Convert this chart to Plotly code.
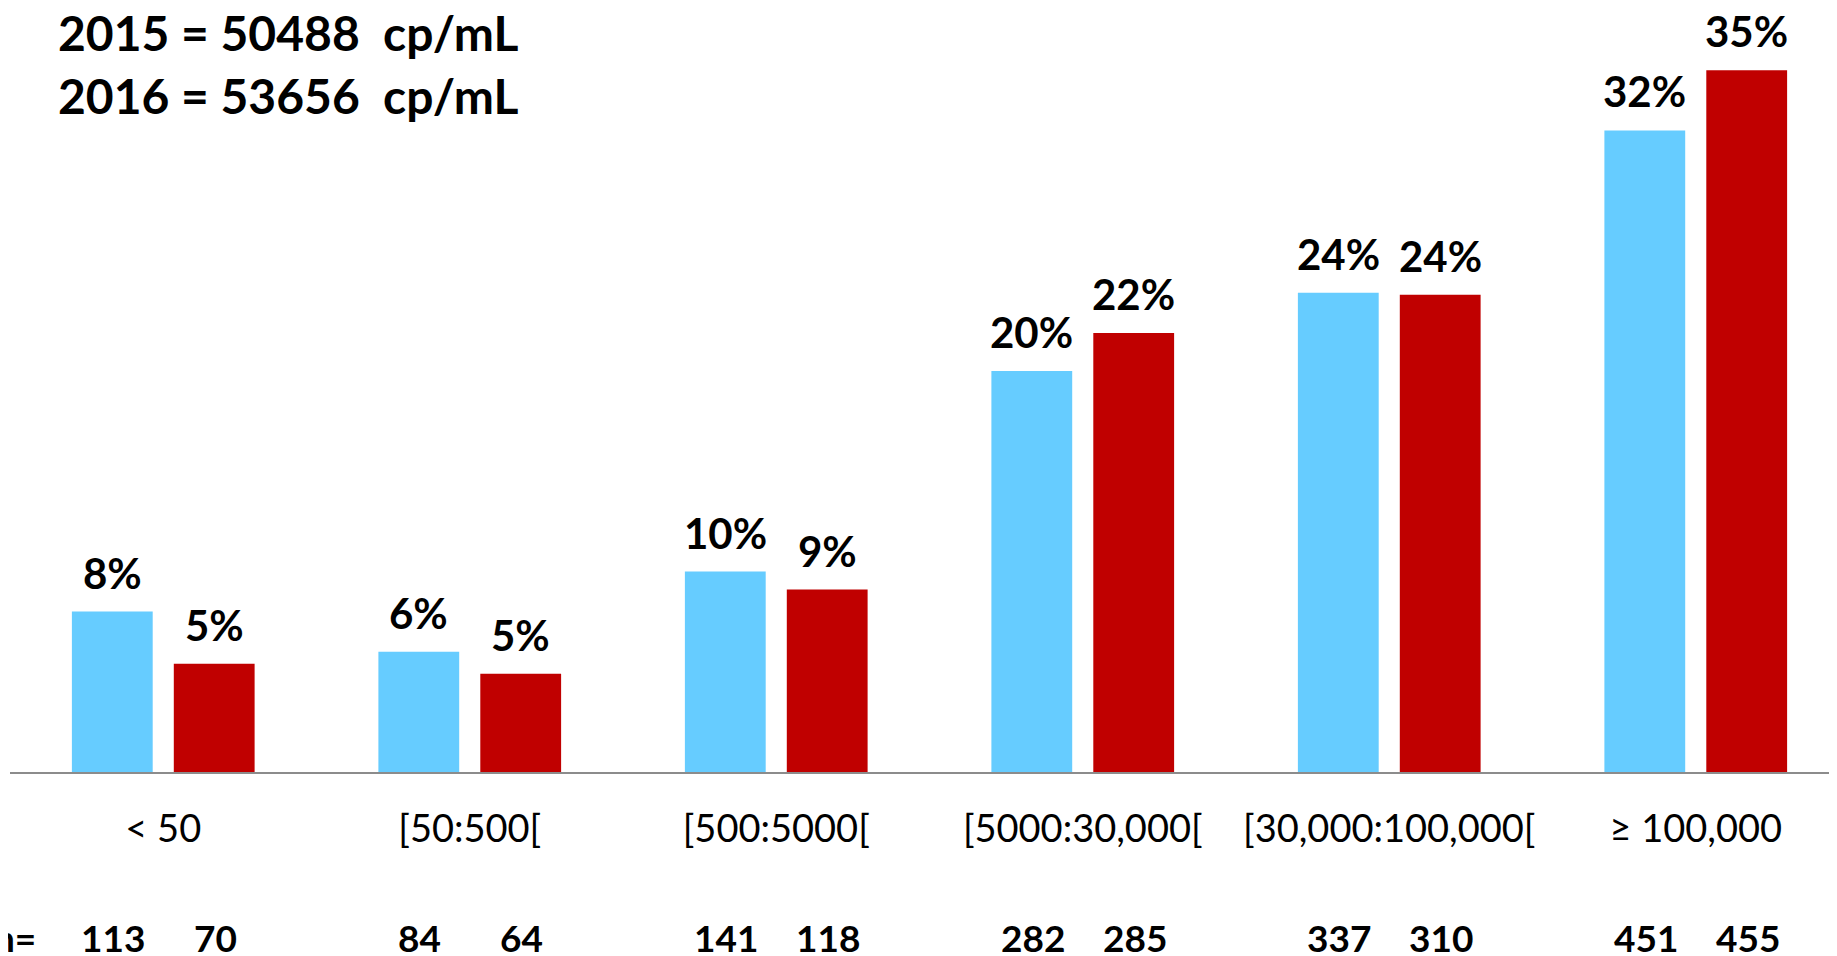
import plotly.graph_objects as go

categories = ["< 50", "[50:500[", "[500:5000[", "[5000:30,000[", "[30,000:100,000[", "\u2265 100,000"]
pct_2015 = [8.0, 6.0, 10.0, 20.0, 23.9, 32.0]
pct_2016 = [5.4, 4.9, 9.1, 21.9, 23.8, 35.0]
n_2015 = [113, 84, 141, 282, 337, 451]
n_2016 = [70, 64, 118, 285, 310, 455]
title_lines = ["2015 = 50488\u00a0\u00a0cp/mL", "2016 = 53656\u00a0\u00a0cp/mL"]

BLUE = "#66CCFF"
RED = "#C00000"
FONT = "Lato"

# page has an 8px body margin, so the figure is drawn smaller and shifted
BODY = 8
W, H = 1837 - BODY, 956 - BODY
ML = 2
BASE = 772 - BODY          # baseline in figure pixels
MB = H - BASE
plot_w = W - ML
cat_px = 306.5
x_span = plot_w / cat_px
px_per_pct = 20.05

fig = go.Figure()
fig.add_trace(go.Bar(x=categories, y=pct_2015, name="2015", marker=dict(color=BLUE, line=dict(width=0)), hoverinfo="skip"))
fig.add_trace(go.Bar(x=categories, y=pct_2016, name="2016", marker=dict(color=RED, line=dict(width=0)), hoverinfo="skip"))

ann = []
off = 0.3325 * cat_px / 2  # pixel offset of each bar centre from category centre
n_y = -(937 - 772)
for i, c in enumerate(categories):
    for vals, ns, sgn in ((pct_2015, n_2015, -1), (pct_2016, n_2016, 1)):
        ann.append(dict(x=c, y=vals[i], xref="x", yref="y", text=f"<b>{vals[i]:.0f}%</b>",
                        showarrow=False, xshift=sgn * off, yanchor="bottom", yshift=12,
                        font=dict(family=FONT, size=42, color="black")))
        ann.append(dict(x=c, y=0, xref="x", yref="paper", text=f"<b>{ns[i]}</b>",
                        showarrow=False, xshift=sgn * off + 1, yanchor="middle", yshift=n_y,
                        font=dict(family=FONT, size=37, color="black")))

ann.append(dict(x=-0.5, y=0, xref="x", yref="paper", text="<b>n=</b>", showarrow=False,
                xanchor="right", xshift=28, yanchor="middle", yshift=n_y,
                font=dict(family=FONT, size=37, color="black")))

for k, line in enumerate(title_lines):
    ann.append(dict(x=(56 - BODY - ML) / plot_w, y=1, xref="paper", yref="paper", text=f"<b>{line}</b>",
                    showarrow=False, xanchor="left", yanchor="middle", yshift=-(32 - BODY + 63 * k),
                    font=dict(family=FONT, size=48, color="black")))

fig.update_layout(
    width=W, height=H,
    margin=dict(l=ML, r=0, t=0, b=MB, pad=0),
    paper_bgcolor="white", plot_bgcolor="white",
    barmode="group", bargap=0.335, bargroupgap=0.207,
    showlegend=False,
    annotations=ann,
    xaxis=dict(range=[-0.5, -0.5 + x_span], showgrid=False, zeroline=False,
               showline=True, linecolor="#8c8c8c", linewidth=2, ticks="",
               tickfont=dict(family=FONT, size=38, color="black"), ticklabelstandoff=22,
               fixedrange=True),
    yaxis=dict(range=[0, BASE / px_per_pct], visible=False, fixedrange=True),
)

fig.write_html("out.html")
